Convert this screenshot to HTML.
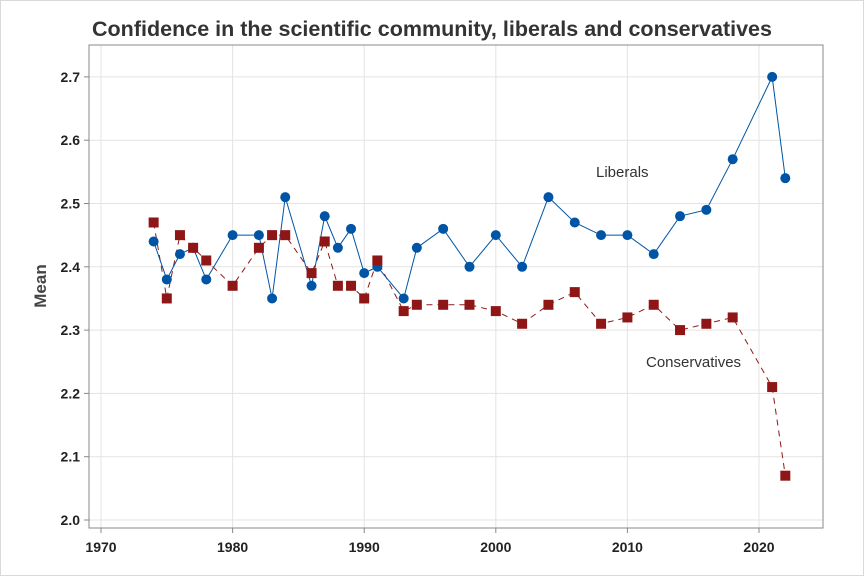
<!DOCTYPE html>
<html><head><meta charset="utf-8"><style>
body{margin:0;background:#fff;}
svg{display:block;font-family:"Liberation Sans","DejaVu Sans",sans-serif;}
</style></head><body>
<svg id="chart" width="864" height="576" viewBox="0 0 864 576" xmlns="http://www.w3.org/2000/svg">
<rect x="0.5" y="0.5" width="863" height="575" fill="#fff" stroke="#d9d9d9"/>
<text x="432" y="36" text-anchor="middle" font-size="21.5" font-weight="bold" fill="#333" textLength="680" lengthAdjust="spacingAndGlyphs">Confidence in the scientific community, liberals and conservatives</text>
<g id="grid"></g>
<rect x="89" y="45" width="734" height="483" fill="none" stroke="#888"/>
<g id="axes"></g>
<g id="series"></g>
<text x="46" y="286" text-anchor="middle" font-size="17" font-weight="bold" fill="#444" transform="rotate(-90 46 286)">Mean</text>
<text x="596" y="177" font-size="15" fill="#333">Liberals</text>
<text x="646" y="367" font-size="15" fill="#333">Conservatives</text>
</svg>
<script>
const years=[1974,1975,1976,1977,1978,1980,1982,1983,1984,1986,1987,1988,1989,1990,1991,1993,1994,1996,1998,2000,2002,2004,2006,2008,2010,2012,2014,2016,2018,2021,2022];
const liberals=[2.44,2.38,2.42,2.43,2.38,2.45,2.45,2.35,2.51,2.37,2.48,2.43,2.46,2.39,2.40,2.35,2.43,2.46,2.40,2.45,2.40,2.51,2.47,2.45,2.45,2.42,2.48,2.49,2.57,2.70,2.54];
const conservatives=[2.47,2.35,2.45,2.43,2.41,2.37,2.43,2.45,2.45,2.39,2.44,2.37,2.37,2.35,2.41,2.33,2.34,2.34,2.34,2.33,2.31,2.34,2.36,2.31,2.32,2.34,2.30,2.31,2.32,2.21,2.07];
const xTicks=[1970,1980,1990,2000,2010,2020];
const yTicks=[2.0,2.1,2.2,2.3,2.4,2.5,2.6,2.7];
const NS="http://www.w3.org/2000/svg";
function xs(v){return 101+(v-1970)*13.16;}
function ys(v){return 520-(v-2.0)*633;}
function mk(tag,attrs,parent){const e=document.createElementNS(NS,tag);for(const k in attrs)e.setAttribute(k,attrs[k]);parent.appendChild(e);return e;}
const grid=document.getElementById('grid'),axes=document.getElementById('axes'),ser=document.getElementById('series');
xTicks.forEach(t=>{
 const l=mk('line',{x1:xs(t),x2:xs(t),y1:45,y2:528,stroke:'#e3e3e3'},grid);
 
 
 const k=mk('line',{x1:xs(t),x2:xs(t),y1:528,y2:533,stroke:'#888'},axes);
 
 
 const tx=mk('text',{x:xs(t),y:552,'text-anchor':'middle','font-size':'14','font-weight':'bold',fill:'#222'},axes);
 tx.textContent=t;
 
 
});
yTicks.forEach(t=>{
 const l=mk('line',{x1:89,x2:823,y1:ys(t),y2:ys(t),stroke:'#e3e3e3'},grid);
 
 
 const k=mk('line',{x1:84,x2:89,y1:ys(t),y2:ys(t),stroke:'#888'},axes);
 
 
 const tx=mk('text',{x:80,y:ys(t)+5,'text-anchor':'end','font-size':'14','font-weight':'bold',fill:'#222'},axes);
 tx.textContent=t.toFixed(1);
 
 
});
function pts(arr){return years.map((y,i)=>xs(y)+','+ys(arr[i])).join(' ');}
const cl=mk('polyline',{points:pts(conservatives),fill:'none',stroke:'#8b1a1a','stroke-width':'1','stroke-dasharray':'6,5'},ser);


const ll=mk('polyline',{points:pts(liberals),fill:'none',stroke:'#0054a6','stroke-width':'1'},ser);


years.forEach((y,i)=>{
 const c=mk('circle',{cx:xs(y),cy:ys(liberals[i]),r:5,fill:'#0054a6'},ser);
 
 
});
years.forEach((y,i)=>{
 const r=mk('rect',{x:xs(y)-5,y:ys(conservatives[i])-5,width:10,height:10,fill:'#8e1616'},ser);
 
 
});
</script>
</body></html>
